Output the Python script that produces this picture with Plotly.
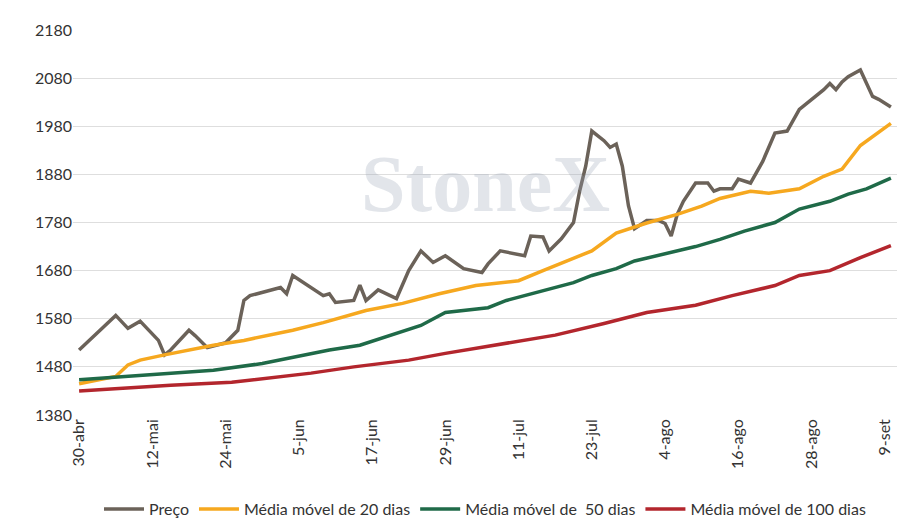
import plotly.graph_objects as go
import pandas as pd

start = pd.Timestamp("2021-04-30")
price_day = [0,6,8,10,13,14,15,18,19,21,24,26,27,28,33,34,35,40,41,42,45,46,47,49,52,54,56,58,60,63,66,67,69,72,73,74,76,77,79,81,82,83,84,86,87,88,89,90,91,93,95,96,97,98,99,101,103,104,105,107,108,110,112,114,116,118,122,123,124,125,126,128,130,131,133]
price_val = [1515,1587,1560,1575,1535,1505,1515,1556,1545,1520,1530,1556,1618,1628,1645,1632,1670,1628,1632,1614,1618,1650,1618,1640,1622,1680,1721,1697,1711,1684,1676,1694,1721,1714,1711,1752,1750,1721,1746,1780,1845,1897,1970,1950,1936,1943,1897,1815,1767,1784,1784,1778,1752,1797,1824,1862,1862,1845,1850,1850,1870,1862,1907,1966,1970,2015,2056,2069,2056,2072,2083,2097,2042,2036,2020]
ma20_day = [0,6,8,10,14,18,22,27,30,35,40,43,47,53,59,65,72,76,80,84,88,93,98,102,105,110,113,118,122,125,128,133]
ma20_val = [1445,1460,1484,1494,1505,1515,1525,1535,1543,1556,1572,1582,1597,1612,1632,1649,1659,1680,1700,1721,1758,1779,1797,1814,1830,1845,1841,1850,1876,1891,1940,1986]
ma50_day = [0,7,14,22,30,35,41,46,51,56,60,67,70,76,81,84,88,91,96,101,105,109,114,118,123,126,129,133]
ma50_val = [1453,1459,1465,1473,1487,1500,1515,1525,1546,1566,1593,1603,1618,1639,1655,1670,1684,1700,1715,1730,1745,1762,1780,1808,1824,1839,1850,1872]
ma100_day = [0,7,15,25,31,38,45,54,60,70,78,86,93,101,107,114,118,123,128,133]
ma100_val = [1430,1436,1442,1448,1457,1467,1480,1494,1508,1529,1546,1570,1593,1608,1628,1649,1670,1680,1707,1732]
tick_day = [0,12,24,36,48,60,72,84,96,108,120,132]
tick_text = ["30-abr","12-mai","24-mai","5-jun","17-jun","29-jun","11-jul","23-jul","4-ago","16-ago","28-ago","9-set"]

def d(days):
    return [start + pd.Timedelta(days=x) for x in days]

fig = go.Figure()
series = [
    ("Preço", price_day, price_val, "#6b6259"),
    ("Média móvel de 20 dias", ma20_day, ma20_val, "#f6a81f"),
    ("Média móvel de  50 dias", ma50_day, ma50_val, "#1f6a48"),
    ("Média móvel de 100 dias", ma100_day, ma100_val, "#b3262d"),
]
for name, xs, ys, c in series:
    fig.add_trace(go.Scatter(x=d(xs), y=ys, name=name, mode="lines",
                             line=dict(color=c, width=3.5)))

fig.add_annotation(text="<b>StoneX</b>", x=0.5, y=0.6, xref="paper", yref="paper",
                   showarrow=False, font=dict(size=80, color="rgba(150,160,180,0.28)", family="Liberation Serif"))

fig.update_layout(
    width=924, height=530, plot_bgcolor="white", paper_bgcolor="white",
    margin=dict(l=65, r=35, t=12, b=82),
    font=dict(family="Lato", size=15, color="#333"),
    showlegend=True,
    legend=dict(orientation="h", x=0.5, xanchor="center", y=-0.2, yanchor="top",
                font=dict(size=16), itemwidth=40),
    xaxis=dict(tickvals=d(tick_day), ticktext=tick_text, tickangle=-90,
               range=d([-1, 134]), showgrid=False, showline=False,
               ticks="", tickfont=dict(size=16)),
    yaxis=dict(range=[1380, 2180], dtick=100, tick0=1380, gridcolor="#dedede",
               zeroline=False, tickfont=dict(size=16)),
)
fig.write_html("out.html")
